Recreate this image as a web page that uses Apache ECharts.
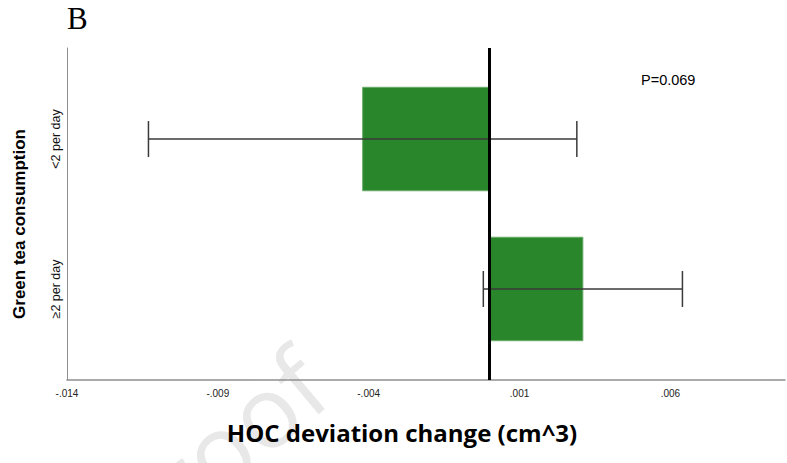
<!DOCTYPE html>
<html>
<head>
<meta charset="utf-8">
<script src="https://cdn.jsdelivr.net/npm/echarts@6/dist/echarts.min.js"></script>
<style>
  html, body { margin: 0; padding: 0; background: #fff; }
  #chart { width: 787px; height: 463px; }
</style>
</head>
<body>
<div id="chart"></div>
<script>
// Green tea groups and their mean HOC deviation change with confidence limits
const categories = ['<2 per day', '≥2 per day'];
const means = [-0.0042, 0.0031];
const lowerCI = [-0.0113, -0.0002];
const upperCI = [0.0029, 0.0064];
const pLabel = 'P=0.069';

// Value-axis tick labels start at -.014 and step by .005
const xMin = -0.014;
const xMax = 0.0098;
const xStep = 0.005;

// Rows sit at 0 and 1 on a hidden value scale, with margin above and below
const rowMin = -0.607;
const rowMax = 1.607;
const barHalf = 0.345;
const capHalf = 0.12;

const rows = categories.map((c, i) => [i, means[i], lowerCI[i], upperCI[i]]);

function fmtTick(v) {
  const s = Math.abs(v).toFixed(3).replace(/^0/, '');
  return (v < -1e-9 ? '-' : '') + s;
}

const chart = echarts.init(document.getElementById('chart'), null, { renderer: 'svg' });

chart.setOption({
  animation: false,
  backgroundColor: '#ffffff',
  grid: { left: 67, right: 2, top: 48, bottom: 83 },
  xAxis: {
    type: 'value',
    min: xMin,
    max: xMax,
    interval: xStep,
    splitLine: { show: false },
    axisTick: { show: false },
    axisLine: { show: true, onZero: false, lineStyle: { color: '#8f8f8f', width: 1.5 } },
    axisLabel: {
      showMaxLabel: false,
      margin: 8,
      color: '#222',
      fontFamily: 'Liberation Sans',
      fontSize: 10,
      formatter: fmtTick
    },
    name: 'HOC deviation change (cm^3)',
    nameLocation: 'middle',
    nameGap: 40,
    nameTextStyle: {
      fontFamily: 'Open Sans',
      fontWeight: 'bold',
      fontSize: 24,
      color: '#000',
      padding: [0, 48, 0, 0]
    }
  },
  yAxis: {
    type: 'value',
    inverse: true,
    min: rowMin,
    max: rowMax,
    splitLine: { show: false },
    axisTick: { show: false },
    axisLine: { show: true, onZero: false, lineStyle: { color: '#8f8f8f', width: 1 } },
    axisLabel: {
      customValues: [0, 1],
      rotate: 90,
      margin: 5,
      color: '#111',
      fontFamily: 'Liberation Sans',
      fontSize: 12.5,
      formatter: v => categories[Math.round(v)] || ''
    },
    name: 'Green tea consumption',
    nameLocation: 'middle',
    nameRotate: 90,
    nameGap: 39,
    nameTextStyle: {
      fontFamily: 'Liberation Sans',
      fontWeight: 'bold',
      fontSize: 17,
      color: '#000',
      padding: [0, 20, 0, 0]
    }
  },
  graphic: [
    {
      type: 'text',
      left: 67,
      top: 3,
      style: { text: 'B', font: '31px "Liberation Serif"', fill: '#000' }
    },
    {
      type: 'text',
      x: 641,
      y: 72,
      style: { text: pLabel, font: '14.5px "Liberation Sans"', fill: '#000' }
    },
    {
      type: 'text',
      x: 343,
      y: 408,
      rotation: 40 * Math.PI / 180,
      z: -10,
      silent: true,
      style: {
        text: 'Journal Pre-proof',
        font: '100px "Open Sans"',
        fill: '#e8e8e8',
        textAlign: 'right',
        textVerticalAlign: 'bottom'
      }
    }
  ],
  series: [
    {
      type: 'custom',
      data: rows,
      encode: { x: [1, 2, 3], y: 0 },
      z: 3,
      renderItem(params, api) {
        const row = api.value(0);
        const mean = api.value(1);
        const lo = api.value(2);
        const hi = api.value(3);
        const base = api.coord([0, row]);
        const end = api.coord([mean, row]);
        const pLo = api.coord([lo, row]);
        const pHi = api.coord([hi, row]);
        const hh = Math.abs(api.size([0, barHalf])[1]);
        const ch = Math.abs(api.size([0, capHalf])[1]);
        const ink = { stroke: '#3a3a3a', lineWidth: 1.5 };
        return {
          type: 'group',
          children: [
            {
              type: 'rect',
              shape: {
                x: Math.min(base[0], end[0]),
                y: base[1] - hh,
                width: Math.abs(end[0] - base[0]),
                height: 2 * hh
              },
              style: { fill: '#2a862b', stroke: '#6aaa6a', lineWidth: 1 }
            },
            { type: 'line', shape: { x1: pLo[0], y1: pLo[1], x2: pHi[0], y2: pHi[1] }, style: ink },
            { type: 'line', shape: { x1: pLo[0], y1: pLo[1] - ch, x2: pLo[0], y2: pLo[1] + ch }, style: ink },
            { type: 'line', shape: { x1: pHi[0], y1: pHi[1] - ch, x2: pHi[0], y2: pHi[1] + ch }, style: ink }
          ]
        };
      },
      markLine: {
        silent: true,
        symbol: ['none', 'none'],
        label: { show: false },
        lineStyle: { color: '#000', width: 3, type: 'solid' },
        data: [{ xAxis: 0 }]
      }
    }
  ]
});
</script>
</body>
</html>
